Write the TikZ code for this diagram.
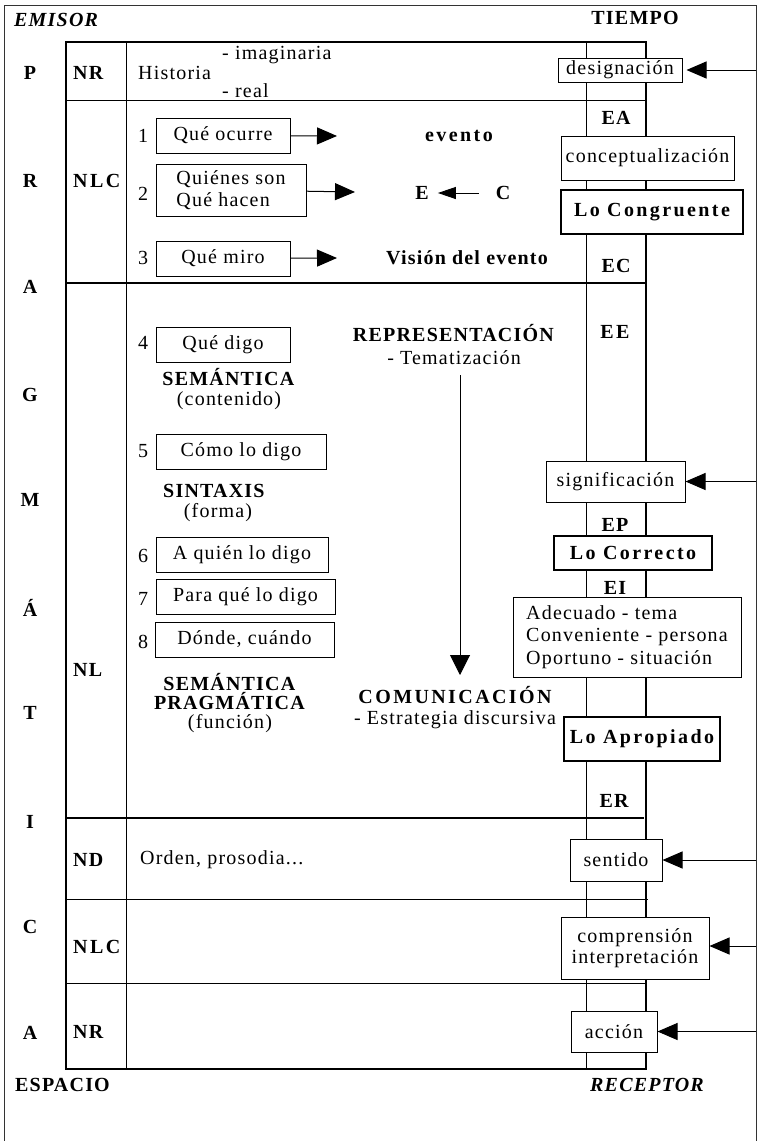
\documentclass[tikz,border=0pt]{standalone}
\usepackage{fontspec}
\setmainfont{Liberation Serif}[LetterSpace=6]
\newfontfamily\widefont{Liberation Serif}[LetterSpace=12]
\usetikzlibrary{arrows.meta}

\tikzset{
	txt/.style={inner sep=0pt},
	tag/.style={inner sep=0pt, font=\bfseries},
	widetag/.style={inner sep=0pt, font=\widefont\bfseries},
	box/.style={draw, fill=white, line width=1pt, inner sep=2pt},
	boldbox/.style={box, line width=2pt, font=\widefont\bfseries},
	arr/.style={line width=1pt, -{Triangle[length=20pt,width=17pt]}},
	smallarr/.style={line width=1pt, -{Triangle[length=18pt,width=12pt]}},
}

\begin{document}
\fontsize{20}{22}\selectfont
\begin{tikzpicture}[x=1pt,y=-1pt]
		%%%%% START %%%%%
		\useasboundingbox (0,0) rectangle (764,1141);
		
		% marco exterior
		\draw[line width=1pt, black!80] (4,1141) -- (4,5) -- (756,5) -- (756,1141);
		
		% cuadro interior
		\draw[line width=2pt] (66,42) rectangle (646,1069);
		\draw[line width=1pt] (126,42) -- (126,1069);
		\draw[line width=1pt] (586,42) -- (586,1069);
		
		\draw[line width=1pt] (66,100) -- (646,100);
		\draw[line width=1.5pt] (66,283) -- (646,283);
		\draw[line width=1.5pt] (66,818) -- (644,818);
		\draw[line width=1pt] (66,899) -- (648,899);
		\draw[line width=1pt] (66,983) -- (646,983);
		
		% esquinas
		\node[txt, anchor=west, font=\bfseries\itshape] (emisor) at (14,20) {EMISOR};
		\node[tag] (tiempo) at (635,18) {TIEMPO};
		\node[txt, anchor=west, font=\bfseries] (espacio) at (15,1085) {ESPACIO};
		\node[txt, font=\bfseries\itshape] (receptor) at (647,1085) {RECEPTOR};
		
		% PRAGMATICA
		\node[tag] (p1) at (30,73) {P};
		\node[tag] (p2) at (30,181) {R};
		\node[tag] (p3) at (30,287) {A};
		\node[tag] (p4) at (30,395) {G};
		\node[tag] (p5) at (30,500) {M};
		\node[tag] (p6) at (30,608) {Á};
		\node[tag] (p7) at (30,713) {T};
		\node[tag] (p8) at (30,822) {I};
		\node[tag] (p9) at (30,927) {C};
		\node[tag] (p10) at (30,1033) {A};
		
		% niveles
		\node[tag, anchor=west] (nr1) at (73,73) {NR};
		\node[widetag, anchor=west] (nlc1) at (73,181) {NLC};
		\node[tag, anchor=west] (nl) at (73,670) {NL};
		\node[tag, anchor=west] (nd) at (73,860) {ND};
		\node[widetag, anchor=west] (nlc2) at (73,947) {NLC};
		\node[tag, anchor=west] (nr2) at (73,1032) {NR};
		
		\node[txt, anchor=west] (historia) at (138,73) {Historia};
		\node[txt, anchor=west] (imag) at (222,55) {- imaginaria};
		\node[txt, anchor=west] (real) at (222,91) {- real};
		\node[txt, anchor=west] (orden) at (140,860) {Orden, prosodia...};
		
		% NLC
		\node[txt] (n1) at (143,136) {1};
		\node[txt] (n2) at (143,194) {2};
		\node[txt] (n3) at (143,258) {3};
		\node[box, minimum width=134, minimum height=35] (ocurre) at (223,135.5) {Qué ocurre};
		\node[box, minimum width=150, minimum height=52, align=left] (quienes) at (231,190) {Quiénes son\\Qué hacen};
		\node[box, minimum width=134, minimum height=35] (miro) at (223,258.5) {Qué miro};
		\coordinate (t1) at (337,136);
		\coordinate (t2) at (355,192);
		\coordinate (t3) at (337,258);
		\draw[arr] (ocurre) -- (t1);
		\draw[arr] (quienes) -- (t2);
		\draw[arr] (miro) -- (t3);
		
		\node[widetag] (evento) at (459,136) {evento};
		\node[tag] (e) at (422,193) {E};
		\node[tag] (c) at (503,193) {C};
		\draw[smallarr] ([xshift=-17pt]c.west) -- ([xshift=9pt]e.east);
		\node[tag] (vision) at (467,258) {Visión del evento};
		
		% NL
		\node[txt] (n4) at (143,343) {4};
		\node[txt] (n5) at (143,451) {5};
		\node[txt] (n6) at (143,556) {6};
		\node[txt] (n7) at (143,599) {7};
		\node[txt] (n8) at (143,642) {8};
		\node[box, minimum width=134, minimum height=35] (digo) at (223,344.5) {Qué digo};
		\node[box, minimum width=170, minimum height=35] (como) at (241,451.5) {Cómo lo digo};
		\node[box, minimum width=172, minimum height=35] (quien) at (242,554.5) {A quién lo digo};
		\node[box, minimum width=179, minimum height=35] (para) at (245.5,596.5) {Para qué lo digo};
		\node[box, minimum width=179, minimum height=35] (donde) at (244.5,639.5) {Dónde, cuándo};
		
		\node[txt, align=center] (semantica) at (229,389) {\textbf{SEMÁNTICA}\\[-2pt](contenido)};
		\node[tag, anchor=west] (sintaxis) at (163,491) {SINTAXIS};
		\node[txt] (forma) at (218,513) {(forma)};
		\node[txt, align=center] (pragmatica) at (230,703) {\textbf{SEMÁNTICA}\\[-3pt]\textbf{PRAGMÁTICA}\\[-3pt](función)};
		
		\node[txt, align=center] (repre) at (454,345) {\textbf{REPRESENTACIÓN}\\[1pt]- Tematización};
		\node[txt, align=center] (comu) at (455,708) {{\widefont\bfseries COMUNICACIÓN}\\[-1pt]- Estrategia discursiva};
		\coordinate (va) at (460,375);
		\coordinate (vb) at (460,675);
		\draw[line width=1pt, -{Triangle[length=20pt,width=20pt]}] (va) -- (vb);
		
		% columna derecha
		\node[tag] (ea) at (616,118) {EA};
		\node[tag] (ec) at (616,266) {EC};
		\node[widetag] (ee) at (615,332) {EE};
		\node[tag] (ep) at (615,525) {EP};
		\node[tag] (ei) at (615,588) {EI};
		\node[tag] (er) at (614,801) {ER};
		
		\node[box, minimum width=124, minimum height=24] (designa) at (620,70) {designación};
		\node[box, minimum width=173, minimum height=44] (concep) at (647.5,158) {conceptualización};
		\node[boldbox, minimum width=182, minimum height=44] (congru) at (652,212) {Lo Congruente};
		\node[box, minimum width=139, minimum height=41] (signif) at (615.5,481.5) {significación};
		\node[boldbox, minimum width=158, minimum height=34] (correcto) at (633,553) {Lo Correcto};
		\node[box, minimum width=228, minimum height=80, align=left, font=\fontsize{20}{22.5}\selectfont] (adecuado) at (627,637) {Adecuado - tema\\Conveniente - persona\\Oportuno - situación};
		\node[boldbox, minimum width=156, minimum height=44] (apropiado) at (642,739) {Lo Apropiado};
		\node[box, minimum width=92, minimum height=42] (sentido) at (616,860) {sentido};
		\node[box, minimum width=148, minimum height=62, align=center, font=\fontsize{20}{21}\selectfont] (compren) at (635,948) {comprensión\\interpretación};
		\node[box, minimum width=86, minimum height=41] (accion) at (614,1031.5) {acción};
		
		% flechas desde el marco
		\coordinate (f1) at (756,70);
		\coordinate (f2) at (756,481.5);
		\coordinate (f3) at (756,860);
		\coordinate (f4) at (756,946);
		\coordinate (f5) at (756,1031.5);
		\draw[arr, shorten >=4pt] (f1) -- (designa);
		\draw[arr] (f2) -- (signif);
		\draw[arr] (f3) -- (sentido);
		\draw[arr] (f4) -- (compren.east |- f4);
		\draw[arr] (f5) -- (accion);
		
		%%%%% END %%%%%
	\end{tikzpicture}
\end{document}
